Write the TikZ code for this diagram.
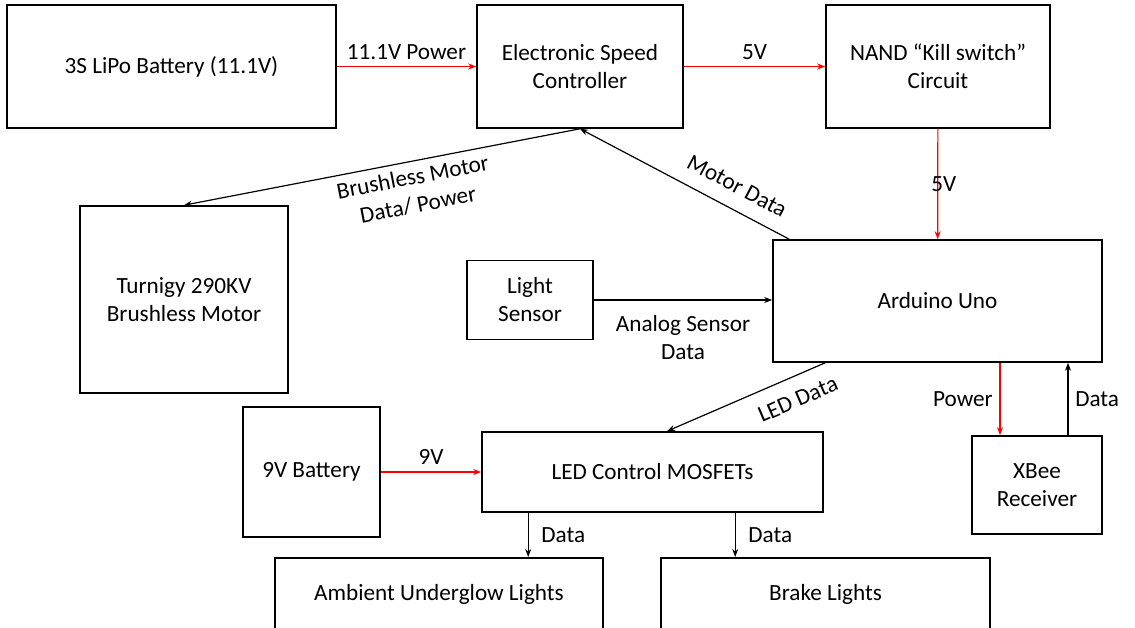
\documentclass[tikz,border=0pt]{standalone}
\usepackage{fontspec}
\setmainfont{Carlito}
\usepackage{tikz}
\usetikzlibrary{arrows.meta,calc}

\begin{document}
\begin{tikzpicture}[
  x=0.5pt, y=-0.5pt,
  every node/.style={font=\fontsize{11.6}{14}\selectfont},
  box/.style={rectangle, draw, line width=0.8pt, align=center, inner sep=2pt},
  arr/.style={line width=0.6pt, -{Stealth[length=4pt,width=3pt]}},
  pwr/.style={arr, red}
]

% Frame
\useasboundingbox (0,0) rectangle (1135,627);
\clip (0,0) rectangle (1135,627);

% Top row
\node[box, minimum width=164.5pt, minimum height=61.5pt] (lipo) at (171.5,66.5) {3S LiPo Battery (11.1V)};
\node[box, minimum width=103pt, minimum height=61.5pt] (esc) at (580,66.5) {Electronic Speed\\Controller};
\node[box, minimum width=112pt, minimum height=61.5pt] (nand) at (938,66.5) {NAND “Kill switch”\\Circuit};

% Middle row
\node[box, minimum width=104pt, minimum height=93.5pt] (motor) at (184,299.5) {Turnigy 290KV\\Brushless Motor};
\node[box, minimum width=63pt, minimum height=39.5pt] (light) at (530,300) {Light\\Sensor};
\node[box, minimum width=164.5pt, minimum height=61pt] (ard) at (937.5,301) {Arduino Uno};

% Lower row
\node[box, minimum width=68.5pt, minimum height=65pt] (batt) at (311.5,472) {9V Battery};
\node[box, minimum width=170.5pt, minimum height=40pt] (led) at (652.5,472) {LED Control MOSFETs};
\node[box, minimum width=65pt, minimum height=49pt] (xbee) at (1037,485) {XBee\\Receiver};

% Lights (cut off at the bottom)
\node[box, anchor=north, minimum width=164pt, inner ysep=13.5pt, text height=8pt, text depth=40pt] (glow) at (439,557) {Ambient Underglow Lights};
\node[box, anchor=north, minimum width=164.5pt, inner ysep=13.5pt, text height=8pt, text depth=40pt] (brake) at (825.5,557) {Brake Lights};

% Power lines
\draw[pwr] (lipo) -- node[above, black]{11.1V Power} (esc);
\draw[pwr] (esc) -- node[above, black]{5V} (nand);
\draw[pwr] (nand) -- node[black, xshift=3pt]{5V} (ard);
\draw[pwr] (batt) -- node[above, black]{9V} (led);
\coordinate (xp) at ($(xbee.north)+(-37,0)$);
\coordinate (xd) at ($(xbee.north)+(31,0)$);
\draw[pwr] (ard.south -| xp) -- node[left, black]{Power} (xp);

% Data lines
\draw[arr] ($(ard.north west)+(17,0)$) -- node[sloped, above=4pt, pos=0.3]{Motor Data} (esc.south);
\draw[arr] (esc.south) -- node[sloped, below, align=center, pos=0.43]{Brushless Motor\\Data/ Power} (motor.north);
\draw[arr] (light.east) -- node[below=4pt, align=center]{Analog Sensor\\Data} (light.east -| ard.west);
\draw[arr] ($(ard.south west)+(53,0)$) -- node[sloped, below=4pt, pos=0.23]{LED Data} ($(led.north)+(14.5,0)$);
\draw[arr] (xd) -- node[right]{Data} (ard.south -| xd);
\draw[arr] ($(led.south west)+(47,0)$) coordinate (g1) -- node[right=3pt]{Data} (glow.north -| g1);
\draw[arr] ($(led.south west)+(254,0)$) coordinate (b1) -- node[right=3pt]{Data} (brake.north -| b1);
\end{tikzpicture}
\end{document}
